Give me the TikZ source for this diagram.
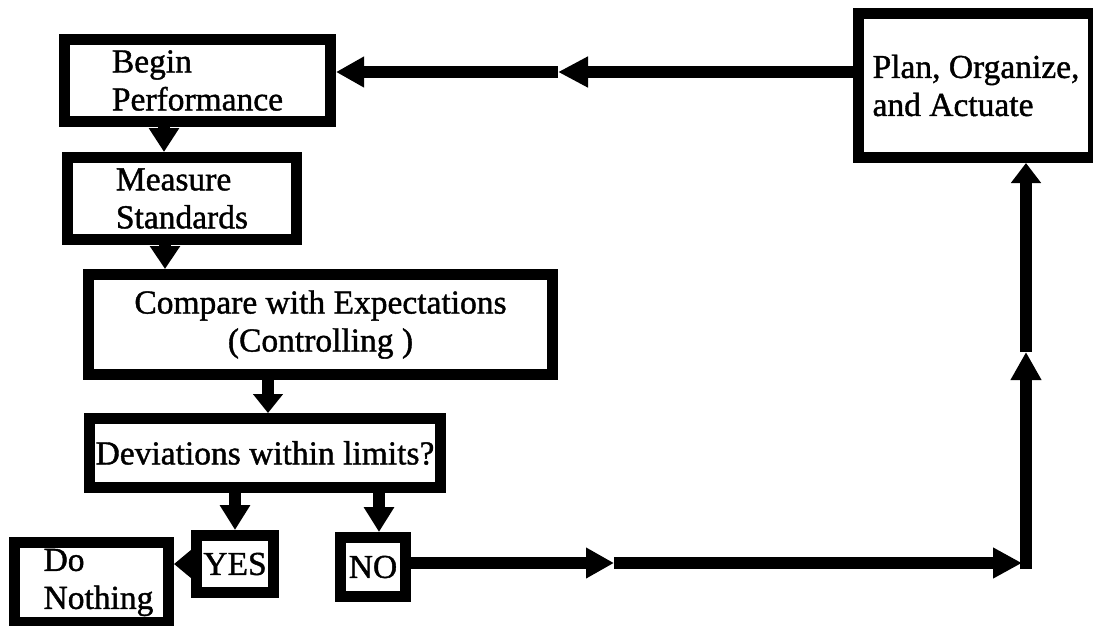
\documentclass[tikz,border=0pt]{standalone}
\usepackage{fontspec}
\setmainfont[FakeBold=1.2]{Liberation Serif}
\usetikzlibrary{arrows.meta,calc}
\begin{document}
\begin{tikzpicture}[x=1pt,y=-1pt,
  box/.style={draw, line width=11pt, rectangle, inner sep=0pt,
    font=\fontsize{33.5}{38}\selectfont},
  flow/.style={line width=12pt, line cap=butt,
    -{Triangle[length=#1,width=29pt]}},
  flow/.default=27pt,
]
\useasboundingbox (0,0) rectangle (1093,625);
\fill[white] (0,0) rectangle (1093,625);

% process boxes
\node[box, minimum width=266pt, minimum height=82pt, align=left]
  (begin) at (197.5,80.5) {Begin\\Performance};
\node[box, minimum width=229pt, minimum height=82pt, align=left]
  (measure) at (182,198.5) {Measure\\Standards};
\node[box, minimum width=464pt, minimum height=100pt, align=center]
  (cmp) at (320.5,324.5) {Compare with Expectations\\(Controlling )};
\node[box, minimum width=351pt, minimum height=69pt]
  (dev) at (265,453) {Deviations within limits?};
\node[box, minimum width=77pt, minimum height=57pt]
  (yes) at (235,564) {YES};
\node[box, minimum width=65pt, minimum height=59pt]
  (no) at (373,567) {NO};
\node[box, minimum width=154pt, minimum height=80pt, align=left]
  (nothing) at (91.5,582.5) {\hspace*{14pt}Do\\\hspace*{14pt}Nothing};
\node[box, minimum width=235pt, minimum height=144pt, align=left]
  (plan) at (976,85.5) {Plan, Organize,\\and Actuate};

% bends and mid-line arrowheads of the feedback loop
\coordinate (m1) at (558,72);
\coordinate (m2) at (614,563);
\coordinate (c)  at (1026,563);
\coordinate (m3) at (1026,352);

% main sequence
\draw[flow=24pt] ($(measure.north |- begin.south)+(-18,0)$) -- ($(measure.north)+(-18,0)$);
\draw[flow=23pt] ($(measure.south)+(-17,0)$) -- ($(measure.south |- cmp.north)+(-17,0)$);
\draw[flow=19pt] ($(dev.north |- cmp.south)+(3,0)$) -- ($(dev.north)+(3,0)$);
\draw[flow=25pt] (yes.north |- dev.south) -- (yes.north);
\draw[flow=25pt] ($(no.north |- dev.south)+(6,0)$) -- ($(no.north)+(6,0)$);
\draw[line width=12pt, -{Triangle[length=17pt,width=27pt]}] (yes.west) -- (yes.west -| nothing.east);

% feedback loop from NO back to the start
\draw[flow=28pt] (no.east |- m2) -- (m2);
\draw[flow=29pt, shorten >=4pt] (m2) -- (c);
\draw[flow=28pt] ($(c)+(0,6)$) -- (m3);
\draw[flow=20pt] (m3) -- (m3 |- plan.south);
\draw[flow=30pt] (plan.west |- m1) -- (m1);
\draw[flow=28pt] (m1) -- (m1 -| begin.east);
\end{tikzpicture}
\end{document}
